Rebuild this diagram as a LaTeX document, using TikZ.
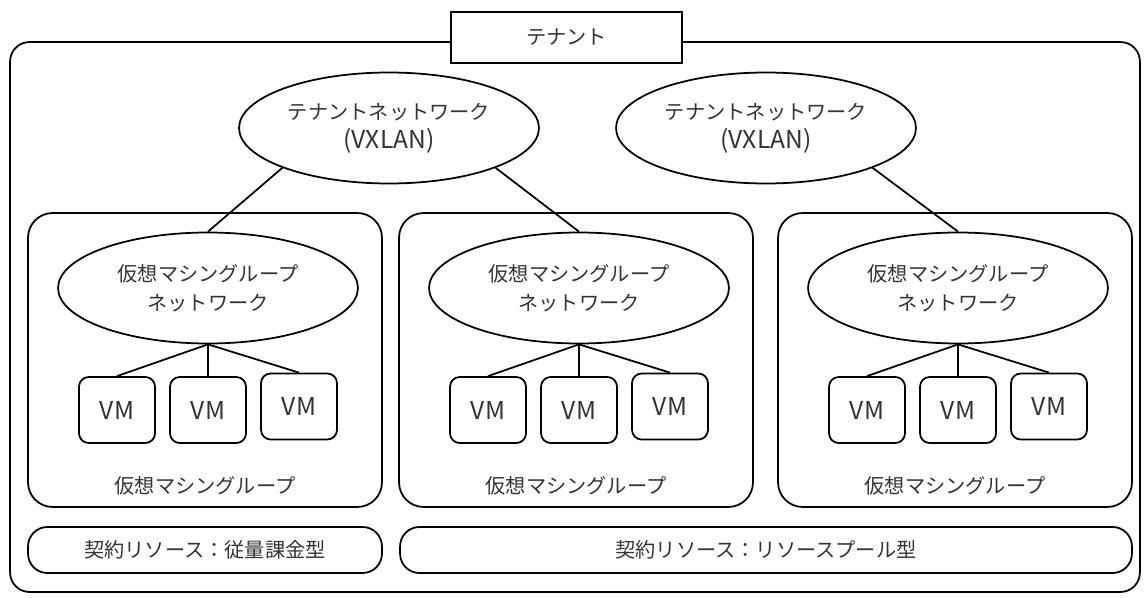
\documentclass[tikz,border=0pt]{standalone}
\usepackage{fontspec}
\newfontfamily\jpfont{Noto Sans CJK JP}
\usetikzlibrary{shapes.geometric}

\newcommand{\latin}[1]{{\fontsize{14pt}{16.5pt}\selectfont #1}}

\tikzset{
  txt/.style={text=black!80, font=\jpfont\fontsize{11.5pt}{16.5pt}\selectfont},
  net/.style={txt, ellipse, draw, line width=1pt, fill=white, minimum width=6cm, minimum height=2.22cm, inner sep=0pt, align=center},
  vmbox/.style={txt, draw, line width=1pt, rounded corners=5.5pt, minimum width=1.52cm, minimum height=1.32cm, inner sep=0pt},
  groupbox/.style={draw, line width=1pt, rounded corners=14pt, minimum width=7.08cm, minimum height=5.88cm, inner sep=0pt},
  contract/.style={txt, draw, line width=1pt, rounded corners=11pt, minimum height=0.92cm, inner sep=0pt},
  link/.style={line width=1pt},
}

\begin{document}
\begin{tikzpicture}[x=0.02cm, y=-0.02cm]
\useasboundingbox (0,0) rectangle (1146,598);

% tenant frame and its title
\node[draw, line width=1pt, rounded corners=11pt, minimum width=22.6cm, minimum height=11cm, inner sep=0pt] (tenant) at (575,317) {};
\node[txt, draw, line width=1pt, fill=white, minimum width=4.62cm, minimum height=1.02cm, inner sep=0pt] (title) at (566.5,37.5) {テナント};

% tenant networks
\node[net] (tn1) at (389,128) {テナントネットワーク\\\latin{(VXLAN)}};
\node[net] (tn2) at (766,128) {テナントネットワーク\\\latin{(VXLAN)}};

% virtual machine groups
\foreach \i/\c in {1/208,2/579,3/958} {
  \node[groupbox] (g\i) at (\c-3,360) {};
  \node[net] (gn\i) at (\c,288) {仮想マシングループ\\ネットワーク};
  \node[vmbox] (vm\i1) at (\c-91,410) {\latin{VM}};
  \node[vmbox] (vm\i2) at (\c,410) {\latin{VM}};
  \node[vmbox] (vm\i3) at (\c+91,406.5) {\latin{VM}};
  \node[txt] (gl\i) at (\c-3,486) {仮想マシングループ};
  \foreach \j in {1,2,3}
    \draw[link] (gn\i.south) -- (vm\i\j.north);
}

\draw[link] (tn1.south west) -- (gn1.north);
\draw[link] (tn1.south east) -- (gn2.north);
\draw[link] (tn2.south east) -- (gn3.north);

% contract resources
\node[contract, minimum width=7.08cm] (payg) at (205,550) {契約リソース：従量課金型};
\node[contract, minimum width=14.64cm] (pool) at (766,550) {契約リソース：リソースプール型};
\end{tikzpicture}
\end{document}
